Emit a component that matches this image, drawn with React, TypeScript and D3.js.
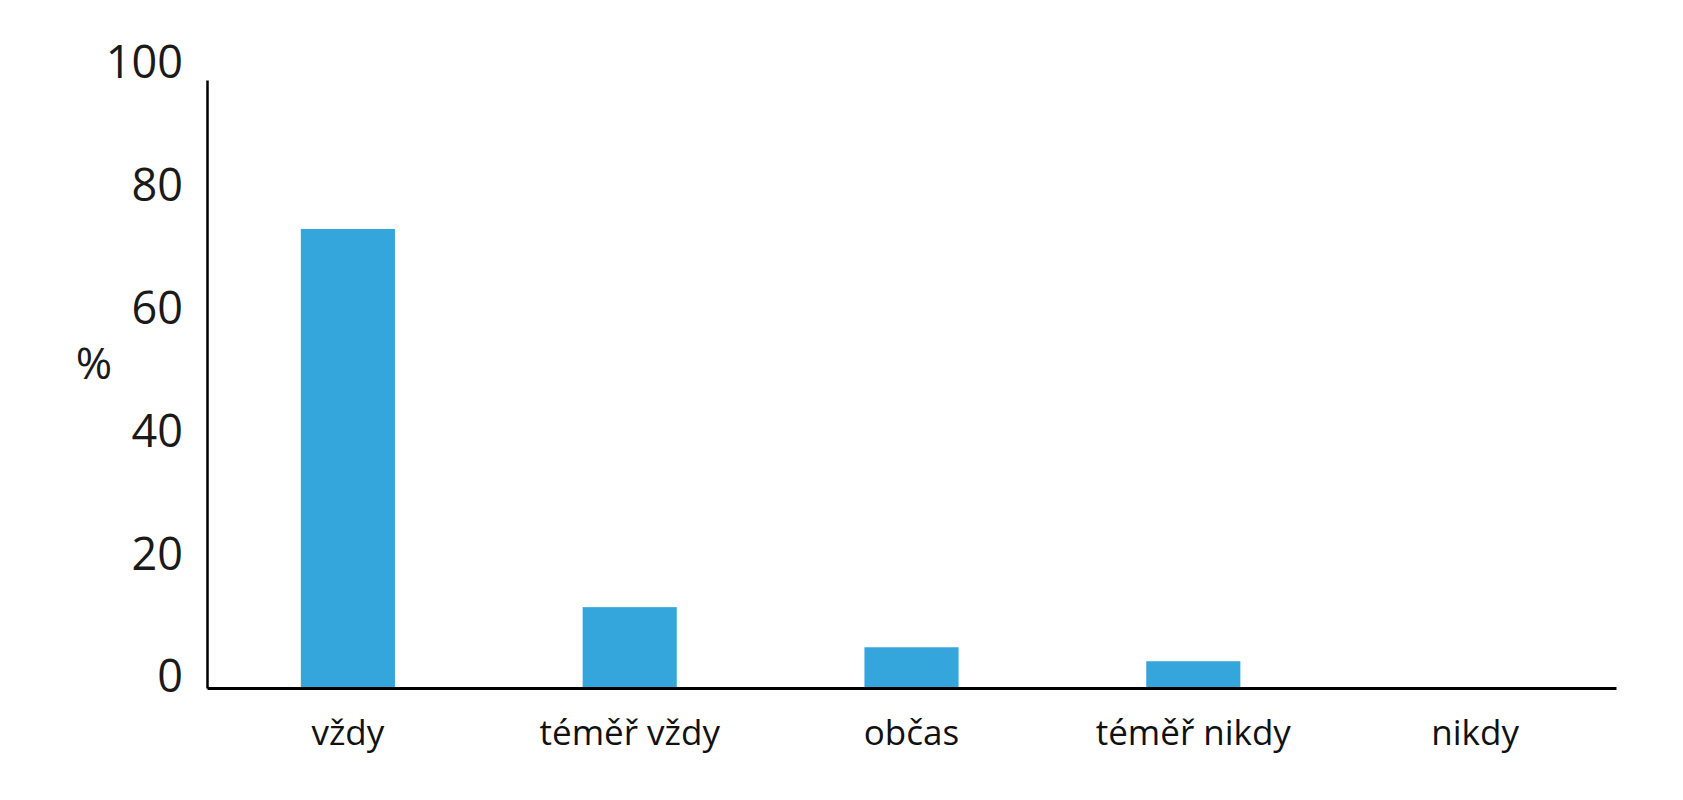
import React, { useEffect, useRef } from 'react';
import * as d3 from 'd3';

const categories = ['vždy', 'téměř vždy', 'občas', 'téměř nikdy', 'nikdy'];
const values = [75.5, 13.3, 6.7, 4.4, 0];
const yTicks = [0, 20, 40, 60, 80, 100];
const yLabel = '%';

const W = 1683;
const H = 800;
const margin = { top: 80, right: 67, bottom: 112, left: 207 };

export default function App() {
  const ref = useRef<SVGSVGElement>(null);

  useEffect(() => {
    const svg = d3.select(ref.current);
    svg.selectAll('*').remove();

    const innerW = W - margin.left - margin.right;
    const innerH = H - margin.top - margin.bottom;

    const x = d3
      .scaleBand<string>()
      .domain(categories)
      .range([0, innerW])
      .paddingInner(0.666)
      .paddingOuter(0.333);

    const y = d3.scaleLinear().domain([0, 100]).range([innerH, 0]);

    const g = svg.append('g').attr('transform', `translate(${margin.left},${margin.top})`);

    // bars
    g.selectAll('rect.bar')
      .data(values)
      .join('rect')
      .attr('class', 'bar')
      .attr('x', (_, i) => x(categories[i]) as number)
      .attr('width', x.bandwidth())
      .attr('y', (d) => y(d))
      .attr('height', (d) => innerH - y(d))
      .attr('fill', '#35a6dc');

    // y axis, labels sit a little above their value like in the original
    const yAxis = g
      .append('g')
      .call(d3.axisLeft(y).tickValues(yTicks).tickSize(0).tickPadding(24));
    yAxis.select('.domain').attr('stroke', '#000').attr('stroke-width', 2.5);
    yAxis
      .selectAll<SVGTextElement, number>('text')
      .attr('font-family', '"Open Sans", sans-serif')
      .attr('font-size', 45)
      .attr('fill', '#1a1a1a')
      .attr('transform', (d) => `translate(0,${-10.5 - d * 0.06})`);

    // x axis
    const xAxis = g
      .append('g')
      .attr('transform', `translate(0,${innerH})`)
      .call(d3.axisBottom(x).tickSize(0).tickPadding(32));
    xAxis.select('.domain').attr('stroke', '#000').attr('stroke-width', 3);
    xAxis
      .selectAll('text')
      .attr('font-family', '"Open Sans", sans-serif')
      .attr('font-size', 35)
      .attr('fill', '#111');

    // y label
    svg
      .append('text')
      .attr('x', 94)
      .attr('y', 362)
      .attr('text-anchor', 'middle')
      .attr('dominant-baseline', 'central')
      .attr('font-family', '"Open Sans", sans-serif')
      .attr('font-size', 44)
      .attr('fill', '#1a1a1a')
      .text(yLabel);
  }, []);

  return (
    <svg
      ref={ref}
      width={W}
      height={H}
      style={{ position: 'absolute', left: 0, top: 0, background: '#fff' }}
    />
  );
}
